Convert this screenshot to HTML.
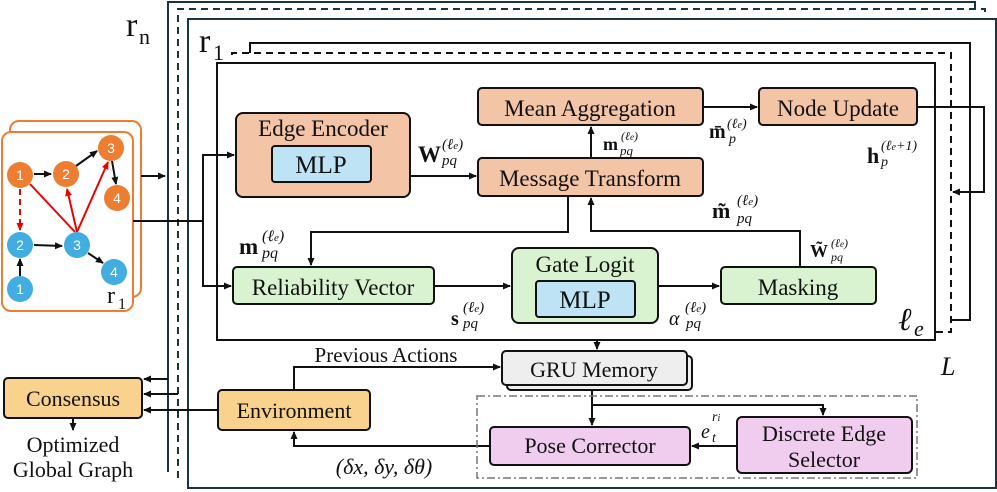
<!DOCTYPE html>
<html><head><meta charset="utf-8"><style>
body{margin:0;background:#fff}
svg{display:block}
svg text{font-family:"Liberation Serif","DejaVu Serif",serif;fill:#111}
svg text.s{font-family:"Liberation Sans",sans-serif;fill:#fff;font-size:14px}
</style></head><body>
<svg width="997" height="492" viewBox="0 0 997 492" xmlns="http://www.w3.org/2000/svg" font-family="Liberation Serif, serif">
<defs>
<marker id="a" markerWidth="8" markerHeight="8" refX="7" refY="4" orient="auto" markerUnits="userSpaceOnUse"><path d="M0,0.5 L8,4 L0,7.5z" fill="#111"/></marker>
<marker id="r" markerWidth="8" markerHeight="8" refX="7" refY="4" orient="auto" markerUnits="userSpaceOnUse"><path d="M0,0.5 L8,4 L0,7.5z" fill="#e00"/></marker>
</defs>
<path d="M168,472 V2 H975 V8" fill="none" stroke="#1c3344" stroke-width="2"/>
<path d="M178,478 V9 H985 V14" fill="none" stroke="#1c3344" stroke-width="2" stroke-dasharray="7,5"/>
<rect x="188" y="19" width="808" height="469" fill="#fff" stroke="#1c3344" stroke-width="2"/>
<text x="126" y="36" font-size="34">r</text><text x="139" y="44" font-size="22">n</text>
<text x="199" y="52" font-size="34">r</text><text x="213" y="60" font-size="22">1</text>
<path d="M250,53 V43 H970 V320 H950" fill="none" stroke="#111" stroke-width="2"/>
<path d="M232,55 V53 H951 V332 H935" fill="none" stroke="#111" stroke-width="2" stroke-dasharray="7,5"/>
<rect x="217" y="63" width="718" height="277" fill="none" stroke="#111" stroke-width="2"/>
<text x="898" y="330" font-size="32" font-style="italic">ℓ</text><text x="914" y="336" font-size="22" font-style="italic">e</text>
<text x="941" y="375" font-size="26" font-style="italic">L</text>
<rect x="10" y="121" width="131" height="176" rx="9" fill="#fff" stroke="#ed7d31" stroke-width="2"/>
<rect x="2" y="132" width="131" height="179" rx="9" fill="#fff" stroke="#ed7d31" stroke-width="2"/>
<g stroke="#111" stroke-width="2">
<line x1="34" y1="174" x2="51" y2="174" marker-end="url(#a)"/>
<line x1="76" y1="166" x2="97" y2="151" marker-end="url(#a)"/>
<line x1="112" y1="161" x2="116" y2="184" marker-end="url(#a)"/>
<line x1="34" y1="245" x2="62" y2="246" marker-end="url(#a)"/>
<line x1="88" y1="253" x2="103" y2="263" marker-end="url(#a)"/>
<line x1="20" y1="276" x2="20" y2="259" marker-end="url(#a)"/>
</g>
<g stroke="#e00" stroke-width="2">
<line x1="20" y1="189" x2="20" y2="230" stroke-dasharray="6,4" marker-end="url(#r)"/>
<line x1="30" y1="184" x2="75" y2="232"/>
<line x1="77" y1="232" x2="67" y2="189" marker-end="url(#r)"/>
<line x1="77" y1="232" x2="108" y2="162" marker-end="url(#r)"/>
</g>
<g fill="#ed7d31"><circle cx="20" cy="175" r="13"/><circle cx="66" cy="174" r="13"/><circle cx="111" cy="148" r="13"/><circle cx="117" cy="198" r="13"/></g>
<g fill="#41ade0"><circle cx="20" cy="245" r="13"/><circle cx="77" cy="245" r="13"/><circle cx="114" cy="272" r="13"/><circle cx="20" cy="289" r="13"/></g>
<g text-anchor="middle">
<text class="s" x="20" y="180">1</text><text class="s" x="66" y="179">2</text><text class="s" x="111" y="153">3</text><text class="s" x="117" y="203">4</text>
<text class="s" x="20" y="250">2</text><text class="s" x="77" y="250">3</text><text class="s" x="114" y="277">4</text><text class="s" x="20" y="294">1</text>
</g>
<text x="107" y="303" font-size="24">r</text><text x="118" y="309" font-size="16">1</text>
<g stroke="#111" stroke-width="2" fill="none">
<line x1="141" y1="176" x2="165" y2="176" marker-end="url(#a)"/>
<path d="M133,221 H203 V155 H234" marker-end="url(#a)"/>
<path d="M203,221 V286 H231" marker-end="url(#a)"/>
<line x1="410" y1="176" x2="476" y2="176" marker-end="url(#a)"/>
<line x1="591" y1="158" x2="591" y2="127" marker-end="url(#a)"/>
<line x1="703" y1="107" x2="757" y2="107" marker-end="url(#a)"/>
<path d="M917,107 H984 V192 H953" marker-end="url(#a)"/>
<path d="M568,196 V232 H311 V265" marker-end="url(#a)"/>
<path d="M800,267 V231 H591 V198" marker-end="url(#a)"/>
<line x1="434" y1="286" x2="510" y2="286" marker-end="url(#a)"/>
<line x1="658" y1="286" x2="719" y2="286" marker-end="url(#a)"/>
<line x1="597" y1="340" x2="597" y2="349" marker-end="url(#a)"/>
<path d="M294,390 V367 H500" marker-end="url(#a)"/>
<path d="M592,390 V405 H823 V415" marker-end="url(#a)"/>
<line x1="592" y1="405" x2="592" y2="425" marker-end="url(#a)"/>
<line x1="737" y1="446" x2="692" y2="446" marker-end="url(#a)"/>
<path d="M490,446 H294 V432" marker-end="url(#a)"/>
<line x1="218" y1="410" x2="144" y2="410" marker-end="url(#a)"/>
<line x1="168" y1="379" x2="144" y2="379" marker-end="url(#a)"/>
<line x1="178" y1="394" x2="144" y2="394" marker-end="url(#a)"/>
<line x1="73" y1="418" x2="73" y2="430" marker-end="url(#a)"/>
</g>
<g stroke="#111" stroke-width="2">
<rect x="236" y="113" width="174" height="84" rx="7" fill="#f4c4a7"/>
<rect x="272" y="146" width="99" height="36" rx="3" fill="#bde3f4"/>
<rect x="478" y="88" width="225" height="37" rx="4" fill="#f4c4a7"/>
<rect x="478" y="158" width="225" height="38" rx="4" fill="#f4c4a7"/>
<rect x="759" y="88" width="158" height="37" rx="4" fill="#f4c4a7"/>
<rect x="233" y="267" width="201" height="37" rx="4" fill="#d9f2d0"/>
<rect x="512" y="248" width="146" height="75" rx="7" fill="#d9f2d0"/>
<rect x="536" y="281" width="99" height="36" rx="3" fill="#bde3f4"/>
<rect x="721" y="267" width="155" height="37" rx="4" fill="#d9f2d0"/>
<rect x="507" y="356" width="185" height="34" rx="4" fill="#eee"/>
<rect x="502" y="351" width="185" height="34" rx="4" fill="#eee"/>
<rect x="4" y="378" width="138" height="40" rx="4" fill="#f9d38e"/>
<rect x="218" y="390" width="152" height="40" rx="4" fill="#f9d38e"/>
<rect x="490" y="427" width="200" height="38" rx="4" fill="#f0cdee"/>
<rect x="737" y="417" width="175" height="56" rx="5" fill="#f0cdee"/>
</g>
<rect x="477" y="396" width="440" height="82" fill="none" stroke="#777" stroke-width="1.5" stroke-dasharray="8,3,2,3"/>
<g font-size="23" text-anchor="middle">
<text x="323" y="136">Edge Encoder</text>
<text x="321" y="173" font-size="25">MLP</text>
<text x="590" y="116">Mean Aggregation</text>
<text x="590" y="186">Message Transform</text>
<text x="838" y="116">Node Update</text>
<text x="333" y="295">Reliability Vector</text>
<text x="585" y="272">Gate Logit</text>
<text x="585" y="308" font-size="25">MLP</text>
<text x="798" y="295">Masking</text>
<text x="594" y="377" font-size="22">GRU Memory</text>
<text x="73" y="406" font-size="22">Consensus</text>
<text x="294" y="418" font-size="22">Environment</text>
<text x="590" y="453" font-size="22">Pose Corrector</text>
<text x="824" y="441" font-size="22">Discrete Edge</text>
<text x="824" y="467" font-size="22">Selector</text>
<text x="73" y="452" font-size="22">Optimized</text>
<text x="73" y="477" font-size="22">Global Graph</text>
<text x="386" y="362" font-size="21">Previous Actions</text>
<text x="384" y="474" font-size="22" font-style="italic">(δx, δy, δθ)</text>
</g>
<g font-style="italic">
<text x="418" y="162" font-size="23" font-weight="bold" font-style="normal">W</text><text x="442" y="149" font-size="15">(ℓ<tspan font-size="11">e</tspan>)</text><text x="442" y="165" font-size="15">pq</text>
<text x="603" y="150" font-size="18" font-weight="bold" font-style="normal">m</text><text x="621" y="140" font-size="12">(ℓ<tspan font-size="9">e</tspan>)</text><text x="620" y="155" font-size="13">pq</text>
<text x="709" y="138" font-size="20" font-weight="bold" font-style="normal">m̄</text><text x="727" y="128" font-size="14">(ℓ<tspan font-size="10">e</tspan>)</text><text x="729" y="143" font-size="14">p</text>
<text x="867" y="163" font-size="22" font-weight="bold" font-style="normal">h</text><text x="881" y="150" font-size="14">(ℓ<tspan font-size="10">e</tspan>+1)</text><text x="881" y="166" font-size="14">p</text>
<text x="712" y="218" font-size="22" font-weight="bold" font-style="normal">m̃</text><text x="737" y="205" font-size="15">(ℓ<tspan font-size="11">e</tspan>)</text><text x="737" y="223" font-size="15">pq</text>
<text x="810" y="257" font-size="18" font-weight="bold" font-style="normal">W̃</text><text x="831" y="247" font-size="12">(ℓ<tspan font-size="9">e</tspan>)</text><text x="831" y="261" font-size="12">pq</text>
<text x="239" y="254" font-size="23" font-weight="bold" font-style="normal">m</text><text x="262" y="241" font-size="16">(ℓ<tspan font-size="11">e</tspan>)</text><text x="262" y="258" font-size="16">pq</text>
<text x="451" y="325" font-size="20" font-weight="bold" font-style="normal">s</text><text x="463" y="312" font-size="15">(ℓ<tspan font-size="11">e</tspan>)</text><text x="463" y="328" font-size="15">pq</text>
<text x="669" y="325" font-size="20">α</text><text x="685" y="312" font-size="15">(ℓ<tspan font-size="11">e</tspan>)</text><text x="686" y="328" font-size="15">pq</text>
<text x="701" y="438" font-size="20">e</text><text x="712" y="421" font-size="14">r<tspan font-size="10">i</tspan></text><text x="712" y="442" font-size="14">t</text>
</g>
</svg>
</body></html>
